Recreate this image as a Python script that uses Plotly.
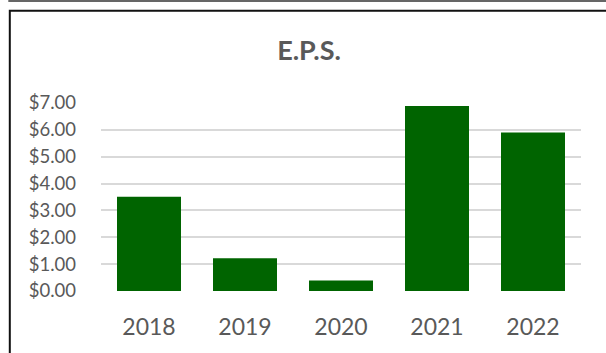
import plotly.graph_objects as go

# Earnings per share by fiscal year
years = ["2018", "2019", "2020", "2021", "2022"]
eps = [3.51, 1.22, 0.39, 6.89, 5.90]
y_ticks = [0, 1, 2, 3, 4, 5, 6, 7]
y_tick_labels = ["$0.00", "$1.00", "$2.00", "$3.00", "$4.00", "$5.00", "$6.00", "$7.00"]

W, H = 606, 353
ML, MR, MT, MB = 100.7, 25.3, 102.7, 62.3
PW, PH = W - ML - MR, H - MT - MB


def px_x(px):
    return (px - ML) / PW


def px_y(py):
    return (H - MB - py) / PH


fig = go.Figure(
    go.Bar(
        x=years,
        y=eps,
        marker=dict(color="#006400", line=dict(width=0)),
        hoverinfo="x+y",
    )
)

fig.update_layout(
    width=W,
    height=H,
    margin=dict(l=ML, r=MR, t=MT, b=MB, pad=0),
    paper_bgcolor="white",
    plot_bgcolor="white",
    bargap=1 / 3,
    showlegend=False,
    font=dict(family="Lato", color="#595959"),
    title=dict(
        text="<b>E.P.S.</b>",
        x=309 / W,
        xanchor="center",
        xref="container",
        y=1 - 51 / H,
        yanchor="middle",
        yref="container",
        font=dict(family="Lato", size=27, color="#595959"),
    ),
    xaxis=dict(
        showgrid=False,
        showline=False,
        zeroline=False,
        ticks="",
        tickfont=dict(size=23, color="#595959"),
        ticklabelstandoff=20,
    ),
    yaxis=dict(
        range=[0, 7],
        tickvals=y_ticks,
        ticktext=y_tick_labels,
        showgrid=True,
        gridcolor="#d9d9d9",
        gridwidth=1.5,
        zeroline=False,
        showline=False,
        ticks="",
        tickfont=dict(size=18.5, color="#595959"),
        ticklabelstandoff=24,
    ),
    shapes=[
        # outer chart frame
        dict(
            type="rect",
            xref="paper",
            yref="paper",
            x0=px_x(9.5),
            x1=px_x(620),
            y0=px_y(370),
            y1=px_y(10.5),
            line=dict(color="#111111", width=2),
            fillcolor="rgba(0,0,0,0)",
            layer="above",
        ),
        # edge of the frame above
        dict(
            type="line",
            xref="paper",
            yref="paper",
            x0=px_x(8),
            x1=px_x(620),
            y0=px_y(0.6),
            y1=px_y(0.6),
            line=dict(color="#333333", width=1.5),
            layer="above",
        ),
    ],
)

fig.write_html("out.html")
